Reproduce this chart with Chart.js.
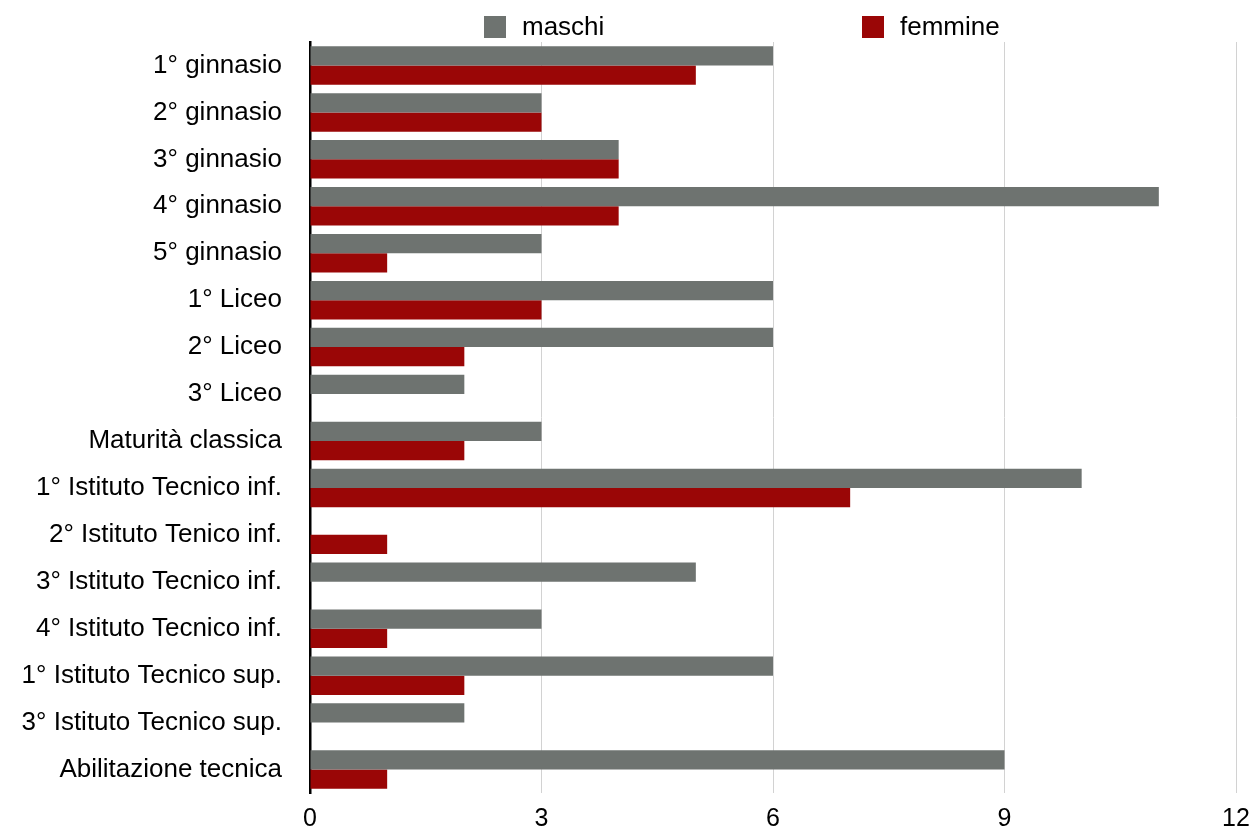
<!DOCTYPE html>
<html>
<head>
<meta charset="utf-8">
<script src="https://cdn.jsdelivr.net/npm/chart.js@4"></script>
<style>
  html, body { margin: 0; padding: 0; background: #fff; }
  #wrap { width: 1255px; height: 831px; }
</style>
</head>
<body>
<div id="wrap"><canvas id="classi"></canvas></div>
<script>
const classi = [
  '1° ginnasio', '2° ginnasio', '3° ginnasio', '4° ginnasio', '5° ginnasio',
  '1° Liceo', '2° Liceo', '3° Liceo', 'Maturità classica',
  '1° Istituto Tecnico inf.', '2° Istituto Tenico inf.', '3° Istituto Tecnico inf.',
  '4° Istituto Tecnico inf.', '1° Istituto Tecnico sup.', '3° Istituto Tecnico sup.',
  'Abilitazione tecnica'
];
const maschi  = [6, 3, 4, 11, 3, 6, 6, 2, 3, 10, 0, 5, 3, 6, 2, 9];
const femmine = [5, 3, 4, 4, 1, 3, 2, 0, 2, 7, 1, 0, 1, 2, 0, 1];
const xTicks = [0, 3, 6, 9, 12];

const FONT = '"Liberation Sans", Arial, Helvetica, sans-serif';
const GRIGIO = '#6e7370';
const ROSSO = '#9a0606';

// legend drawn by hand so the two entries sit far apart
const legendaAlta = {
  id: 'legendaAlta',
  afterDraw(chart) {
    const ctx = chart.ctx;
    const voci = [
      { x: 484, testo: 'maschi', colore: GRIGIO },
      { x: 862, testo: 'femmine', colore: ROSSO }
    ];
    ctx.save();
    ctx.font = '26px ' + FONT;
    ctx.textBaseline = 'middle';
    ctx.textAlign = 'left';
    voci.forEach(v => {
      ctx.fillStyle = v.colore;
      ctx.fillRect(v.x, 16, 22, 22);
      ctx.fillStyle = '#000';
      ctx.fillText(v.testo, v.x + 38, 28);
    });
    ctx.restore();
  }
};

new Chart(document.getElementById('classi'), {
  type: 'bar',
  data: {
    labels: classi,
    datasets: [
      { label: 'maschi', data: maschi, backgroundColor: GRIGIO },
      { label: 'femmine', data: femmine, backgroundColor: ROSSO }
    ]
  },
  options: {
    indexAxis: 'y',
    responsive: true,
    maintainAspectRatio: false,
    animation: false,
    categoryPercentage: 0.82,
    barPercentage: 1.0,
    layout: { padding: { top: 42, right: 19, bottom: 0, left: 0 } },
    plugins: {
      legend: { display: false },
      tooltip: { enabled: false }
    },
    scales: {
      x: {
        min: 0,
        max: 12,
        afterBuildTicks: (scale) => { scale.ticks = xTicks.map(v => ({ value: v })); },
        afterFit: (scale) => {
          scale.height = 38;
          scale.paddingLeft = 0;
          scale.paddingRight = 0;
        },
        grid: {
          drawTicks: false,
          color: (c) => c.tick && c.tick.value === 0 ? 'rgba(0,0,0,0)' : '#d2d2d2',
          lineWidth: 1
        },
        border: { display: false },
        ticks: {
          padding: 14,
          color: '#000',
          font: { family: FONT, size: 25, lineHeight: 1 }
        }
      },
      y: {
        afterFit: (scale) => {
          scale.width = 310;
          scale.paddingTop = 0;
          scale.paddingBottom = 0;
        },
        grid: { display: false, drawTicks: false },
        border: { display: true, color: '#000', width: 2.5 },
        ticks: {
          padding: 28,
          color: '#000',
          font: { family: FONT, size: 26 }
        }
      }
    }
  },
  plugins: [legendaAlta]
});
</script>
</body>
</html>
